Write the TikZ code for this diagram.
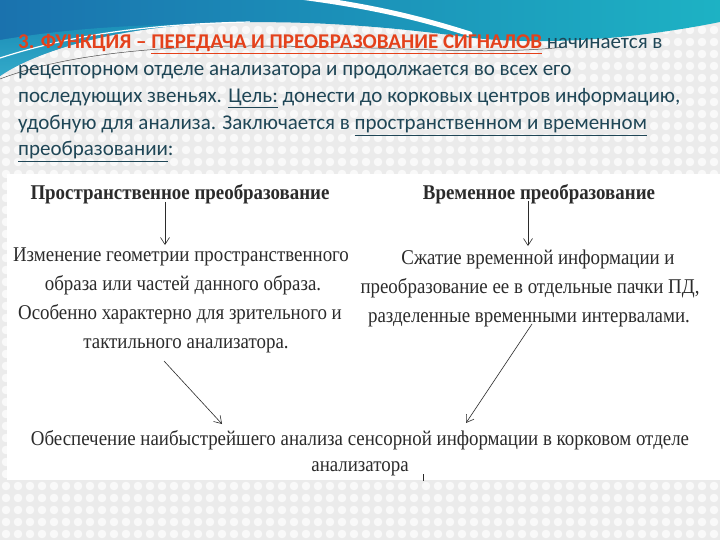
\documentclass[tikz,border=0pt]{standalone}
\usepackage{fontspec}
\setmainfont{Liberation Serif}
\newfontfamily\topfont{Carlito}
\newfontfamily\diafont[FakeStretch=0.9]{Liberation Serif}
\usetikzlibrary{arrows.meta}
\definecolor{bgc}{HTML}{EBEBEB}
\definecolor{dotc}{HTML}{F9F9F9}
\definecolor{bandL}{HTML}{1A72AE}
\definecolor{bandR}{HTML}{1DB2C4}
\definecolor{bandLow}{HTML}{3FC3D6}
\definecolor{txt}{HTML}{1F4656}
\definecolor{redt}{HTML}{E4411B}
\definecolor{diat}{HTML}{2B2B2B}
\tikzset{
  topline/.style={anchor=base west, inner sep=0pt, font=\topfont\fontsize{21}{24}\selectfont, text=txt},
  head/.style={anchor=base, inner sep=0pt, font=\diafont\bfseries\fontsize{21}{24}\selectfont, text=diat},
  body/.style={anchor=base, inner sep=0pt, font=\diafont\fontsize{21}{24}\selectfont, text=diat},
  arr/.style={draw=diat, line width=0.6pt, -{Straight Barb[length=7pt,width=9pt]}}
}
\begin{document}
\begin{tikzpicture}[x=1pt,y=-1pt]
\useasboundingbox (0,0) rectangle (720,540);
% background with dots
\fill[bgc] (0,0) rectangle (720,540);
\foreach \i in {0,...,59}{
  \foreach \j in {0,...,44}{
    \fill[dotc] ({6+12*\i},{6+12*\j}) circle (4.3);
  }
}
% top band
\shade[left color=bandL, right color=bandR]
  (0,0) -- (720,0) -- (720,22)
  .. controls (620,42) and (530,45) .. (465,37)
  .. controls (400,28) and (300,18) .. (200,24)
  .. controls (100,30) and (30,55) .. (0,76) -- cycle;
\shade[top color=bandL!40!bandR, bottom color=bandLow, opacity=0.7]
  (0,40) .. controls (60,30) and (120,25) .. (200,24)
  .. controls (100,30) and (30,55) .. (0,76) -- cycle;
\draw[white, line width=5pt, line cap=round]
  (300,-3) .. controls (370,6) and (420,18) .. (470,34);
\draw[white, line width=1.2pt]
  (0,58) .. controls (80,32) and (160,24) .. (250,22);
\draw[black!70, line width=0.5pt]
  (0,79) .. controls (60,56) and (150,46) .. (250,46)
  .. controls (400,46) and (480,56) .. (565,47);
% white picture area
\fill[white] (7,174) rectangle (720,480);
% top text
\node[topline] (t1) at (18,49) {\textcolor{redt}{\bfseries 3. ФУНКЦИЯ – \underline{ПЕРЕДАЧА И ПРЕОБРАЗОВАНИЕ СИГНАЛОВ}} начинается в};
\node[topline] (t2) at (18,76) {рецепторном отделе анализатора и продолжается во всех его};
\node[topline] (t3) at (18,103) {последующих звеньях. \underline{Цель:} донести до корковых центров информацию,};
\node[topline] (t4) at (18,130) {удобную для анализа. Заключается в \underline{пространственном и временном}};
\node[topline] (t5) at (18,156) {\underline{преобразовании}:};
% headings
\node[head] (h1) at (180,200) {Пространственное преобразование};
\node[head] (h2) at (539,200) {Временное преобразование};
% left body
\node[body] (l1) at (181,261) {Изменение геометрии пространственного};
\node[body] (l2) at (183,290) {образа или частей данного образа.};
\node[body] (l3) at (180,319) {Особенно характерно для зрительного и};
\node[body] (l4) at (186,348) {тактильного анализатора.};
% right body
\node[body] (r1) at (538,264) {Сжатие временной информации и};
\node[body] (r2) at (530,293) {преобразование ее в отдельные пачки ПД,};
\node[body] (r3) at (529,322) {разделенные временными интервалами.};
% bottom
\node[body] (b1) at (360,445) {Обеспечение наибыстрейшего анализа сенсорной информации в корковом отделе};
\node[body] (b2) at (360,471) {анализатора};
% arrows
\coordinate (a1s) at (165,202);
\coordinate (a1e) at (165,245);
\coordinate (a2s) at (528,201);
\coordinate (a2e) at (528,246);
\coordinate (a3s) at (164,361);
\coordinate (a3e) at (222,424);
\coordinate (a4s) at (532,324);
\coordinate (a4e) at (466,423);
\draw[arr] (a1s) -- (a1e);
\draw[arr] (a2s) -- (a2e);
\draw[arr] (a3s) -- (a3e);
\draw[arr] (a4s) -- (a4e);
% small mark
\coordinate (m1) at (423,474);
\coordinate (m2) at (423,481);
\draw[diat, line width=0.8pt] (m1) -- (m2);
\end{tikzpicture}
\end{document}
